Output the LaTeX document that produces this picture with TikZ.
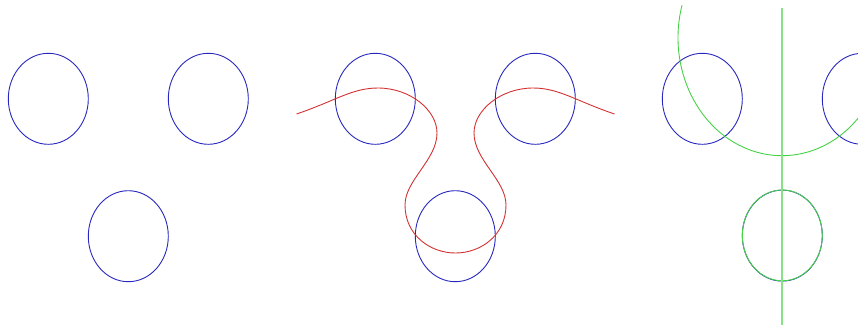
\documentclass[tikz,border=0pt]{standalone}
\usepackage{tikz}
\definecolor{ringblue}{RGB}{40,40,190}
\definecolor{pathred}{RGB}{210,50,50}
\definecolor{sweepgreen}{RGB}{70,210,70}
\definecolor{axisgreen}{RGB}{135,225,135}

\begin{document}
\begin{tikzpicture}[x=1pt,y=-1pt]
\clip (0,0) rectangle (858,327);
% panel 1
\draw[line width=0.9pt, ringblue] (48.3,98.8) ellipse (40 and 45.5);
\draw[line width=0.9pt, ringblue] (208.3,98.8) ellipse (40 and 45.5);
\draw[line width=0.9pt, ringblue] (128.3,236.2) ellipse (40 and 45.5);
% panel 2
\draw[line width=0.9pt, ringblue] (375.3,98.8) ellipse (40 and 45.5);
\draw[line width=0.9pt, ringblue] (535.3,98.8) ellipse (40 and 45.5);
\draw[line width=0.9pt, ringblue] (455.3,236.2) ellipse (40 and 45.5);
\draw[line width=0.9pt, pathred] (296.5,114) .. controls (335,101) and (352,88) .. (378,88)
  .. controls (410,88) and (437,110) .. (437,133)
  .. controls (437,160) and (405,180) .. (405,205)
  .. controls (405,235) and (430,253) .. (455.5,253)
  .. controls (481,253) and (506,235) .. (506,205)
  .. controls (506,180) and (474,160) .. (474,133)
  .. controls (474,110) and (501,88) .. (533,88)
  .. controls (559,88) and (576,101) .. (614.5,114);
% panel 3
\draw[line width=0.9pt, ringblue] (702.3,98.8) ellipse (40 and 45.5);
\draw[line width=0.9pt, ringblue] (862.3,98.8) ellipse (40 and 45.5);
\draw[line width=0.9pt, ringblue] (782.3,235.6) ellipse (40 and 45.5);
\draw[line width=0.9pt, sweepgreen] (782.3,235.4) ellipse (40 and 45.4);
\draw[line width=0.9pt, sweepgreen] (782,37.7) ++(196:104 and 118) arc (196:43:104 and 118);
\draw[line width=1.6pt, axisgreen] (782,8.3) -- (782,325);
\end{tikzpicture}
\end{document}
